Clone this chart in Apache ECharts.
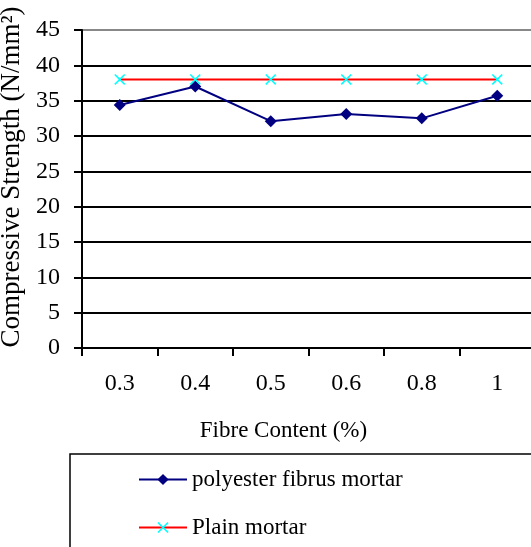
<!DOCTYPE html>
<html>
<head>
<meta charset="utf-8">
<script src="https://cdn.jsdelivr.net/npm/echarts@6/dist/echarts.min.js"></script>
<style>
  html, body { margin: 0; padding: 0; background: #fff; }
  #chart { width: 531px; height: 547px; }
</style>
</head>
<body>
<div id="chart"></div>
<script>
// fibre content categories (%)
const fibreContent = ['0.3', '0.4', '0.5', '0.6', '0.8', '1']
// compressive strength values (N/mm2)
const polyesterMortar = [34.4, 37.0, 32.1, 33.1, 32.5, 35.7]
const plainMortar = [38, 38, 38, 38, 38, 38]
const yTicks = { min: 0, max: 45, interval: 5 }

const serif = 'Liberation Serif, Times New Roman, serif'
const crossPath = 'path://M0,1 L1,0 L5,4 L9,0 L10,1 L6,5 L10,9 L9,10 L5,6 L1,10 L0,9 L4,5 Z'

const chart = echarts.init(document.getElementById('chart'))

const option = {
  backgroundColor: '#fff',
  animation: false,
  grid: { left: 82, top: 30, right: -4, bottom: 199, outerBoundsMode: 'none', containLabel: false },
  xAxis: {
    type: 'category',
    data: fibreContent,
    boundaryGap: true,
    name: 'Fibre Content (%)',
    nameLocation: 'middle',
    nameGap: 71,
    nameTextStyle: { fontFamily: serif, fontSize: 23, color: '#000', padding: [0, 50, 0, 0] },
    axisLine: { lineStyle: { color: '#000', width: 2 } },
    axisTick: { show: true, length: 8, lineStyle: { color: '#000', width: 2 } },
    axisLabel: { fontFamily: serif, fontSize: 24, color: '#000', margin: 24 }
  },
  yAxis: {
    type: 'value',
    min: yTicks.min,
    max: yTicks.max,
    interval: yTicks.interval,
    name: 'Compressive Strength (N/mm²)',
    nameLocation: 'middle',
    nameRotate: 90,
    nameGap: 47,
    nameTextStyle: { fontFamily: serif, fontSize: 27, color: '#000', padding: [0, 0, 0, 24] },
    axisLine: { show: true, lineStyle: { color: '#000', width: 2 } },
    axisTick: { show: true, length: 8, lineStyle: { color: '#000', width: 2 } },
    axisLabel: { fontFamily: serif, fontSize: 24, color: '#000', margin: 22 },
    splitLine: {
      show: true,
      lineStyle: {
        width: 2,
        color: ['#000', '#000', '#000', '#000', '#000', '#000', '#000', '#000', '#000', '#888']
      }
    }
  },
  legend: {
    orient: 'vertical',
    left: 138,
    top: 468,
    padding: 0,
    itemWidth: 48,
    itemHeight: 14,
    itemGap: 25,
    textStyle: { fontFamily: serif, fontSize: 23, color: '#000' },
    data: ['polyester fibrus mortar', 'Plain mortar']
  },
  graphic: [
    {
      type: 'rect',
      shape: { x: 70, y: 454, width: 500, height: 120 },
      style: { fill: 'none', stroke: '#000', lineWidth: 1.5 },
      z: 0
    }
  ],
  series: [
    {
      name: 'polyester fibrus mortar',
      type: 'line',
      data: polyesterMortar,
      symbol: 'diamond',
      symbolSize: 12,
      lineStyle: { color: '#000080', width: 2 },
      itemStyle: { color: '#000080' }
    },
    {
      name: 'Plain mortar',
      type: 'line',
      data: plainMortar,
      symbol: crossPath,
      symbolSize: 11,
      lineStyle: { color: '#ff0000', width: 2 },
      itemStyle: { color: '#00ffff' },
      z: 3
    }
  ]
}

chart.setOption(option)
</script>
</body>
</html>
